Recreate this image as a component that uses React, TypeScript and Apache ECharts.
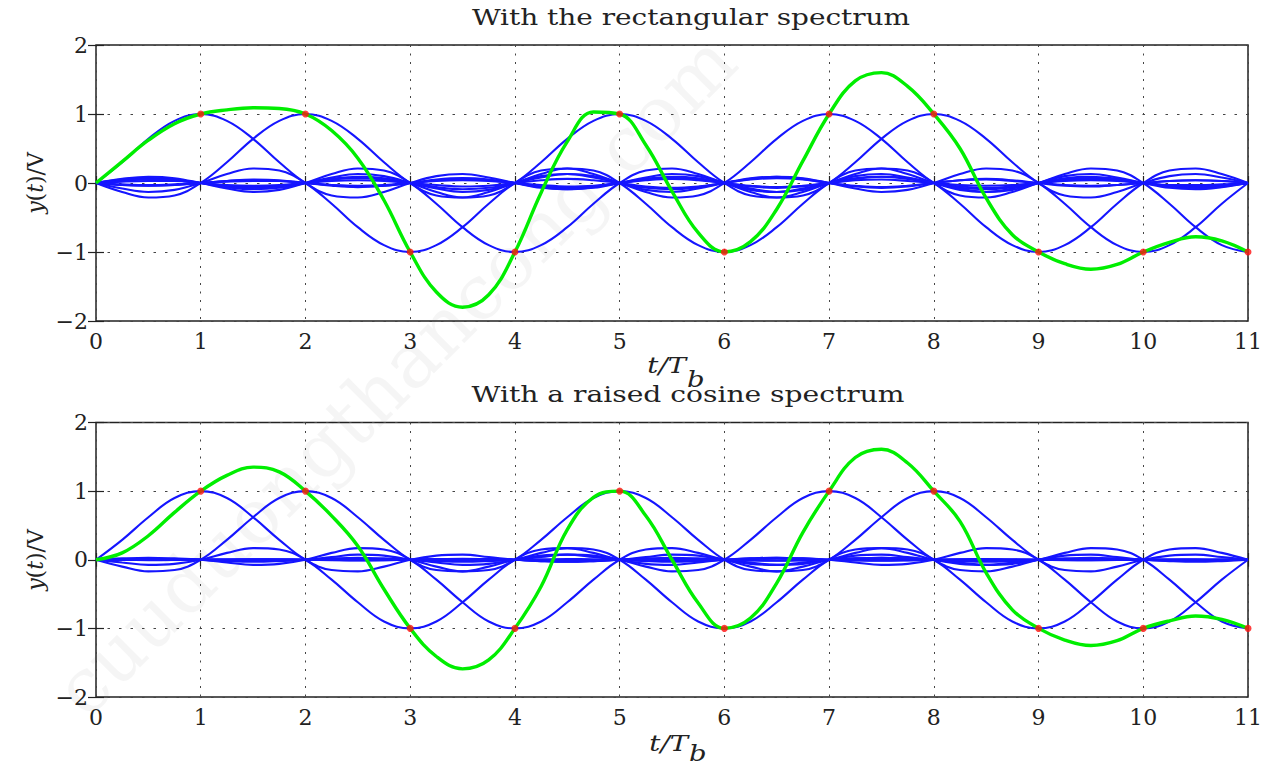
import React, { useEffect, useRef } from 'react';
import * as echarts from 'echarts';

// sampling grid of the curves (t / Tb)
const SAMPLE_STEP = 0.25;
const SAMPLES_PER_UNIT = 4;

// transmitted symbols (red dots)
const symbolTimes = [1, 2, 3, 4, 5, 6, 7, 8, 9, 10, 11];
const symbolAmps = [1, 1, -1, -1, 1, -1, 1, 1, -1, -1, -1];

// one-sided pulse shapes, offsets 0, 0.25, ..., 11
const rectPulse = [
  1, 0.9, 0.64, 0.3, 0, -0.18, -0.21, -0.13, 0, 0.1, 0.13, 0.08, 0, -0.07, -0.09, -0.06,
  0, 0.05, 0.07, 0.05, 0, -0.04, -0.06, -0.04, 0, 0.04, 0.05, 0.03, 0, -0.03, -0.04, -0.03,
  0, 0.03, 0.04, 0.03, 0, -0.03, -0.03, -0.02, 0, 0.02, 0.03, 0.02, 0,
];
const rcPulse = [
  1, 0.9, 0.62, 0.29, 0, -0.15, -0.17, -0.1, 0, 0.06, 0.075, 0.04, 0, -0.02, -0.03, -0.02,
  0, 0.01, 0.015, 0.01, 0, -0.008, -0.01, -0.006, 0, 0.005, 0.007, 0.004, 0, -0.004, -0.005, -0.003,
  0, 0.003, 0.004, 0.003, 0, -0.002, -0.003, -0.002, 0, 0.002, 0.002, 0.001, 0,
];

// received signals (green), t = 0, 0.25, ..., 11
const rectSum = [
  0, 0.31, 0.62, 0.86, 1.0, 1.06, 1.09, 1.08, 1.0, 0.76, 0.36, -0.25, -1.0,
  -1.58, -1.8, -1.62, -1.0, -0.14, 0.6, 1.03, 1.0, 0.55, -0.12, -0.72, -1.0,
  -0.85, -0.38, 0.32, 1.0, 1.48, 1.6, 1.4, 1.0, 0.5, -0.22, -0.75, -1.0,
  -1.17, -1.25, -1.18, -1.0, -0.86, -0.78, -0.84, -1.0,
];
const rcSum = [
  0, 0.1, 0.35, 0.69, 1.0, 1.23, 1.35, 1.28, 1.0, 0.64, 0.2, -0.43, -1.0,
  -1.41, -1.59, -1.46, -1.0, -0.39, 0.44, 0.91, 1.0, 0.64, 0.0, -0.63, -1.0,
  -0.85, -0.34, 0.4, 1.0, 1.49, 1.61, 1.41, 1.0, 0.56, -0.19, -0.73, -1.0,
  -1.17, -1.25, -1.18, -1.0, -0.89, -0.82, -0.87, -1.0,
];

const titles = ['With the rectangular spectrum', 'With a raised cosine spectrum'];

const FONT = 'DejaVu Serif';
const BLUE = '#1515ff';
const GREEN = '#00ee00';
const RED = '#ff1010';
const INK = '#222222';

const tGrid = rectSum.map((_, i) => i * SAMPLE_STEP);

function pulseSeries(shape: number[], axisIndex: number) {
  return symbolTimes.map((k, j) => ({
    type: 'line',
    xAxisIndex: axisIndex,
    yAxisIndex: axisIndex,
    smooth: 0.4,
    symbol: 'none',
    silent: true,
    lineStyle: { color: BLUE, width: 2.1 },
    data: tGrid.map((t, i) => [t, symbolAmps[j] * shape[Math.abs(i - k * SAMPLES_PER_UNIT)]]),
    z: 2,
  }));
}

function sumSeries(values: number[], axisIndex: number) {
  return {
    type: 'line',
    xAxisIndex: axisIndex,
    yAxisIndex: axisIndex,
    smooth: 0.4,
    symbol: 'none',
    silent: true,
    lineStyle: { color: GREEN, width: 3.4 },
    data: tGrid.map((t, i) => [t, values[i]]),
    z: 3,
  };
}

function dotSeries(axisIndex: number) {
  return {
    type: 'scatter',
    xAxisIndex: axisIndex,
    yAxisIndex: axisIndex,
    symbol: 'circle',
    symbolSize: 7,
    itemStyle: { color: RED },
    data: symbolTimes.map((k, j) => [k, symbolAmps[j]]),
    z: 4,
  };
}

const minus = (v: number) => (v < 0 ? '\u2212' + Math.abs(v) : String(v));

function xAxisDef(gridIndex: number, main: boolean) {
  return {
    type: 'value',
    gridIndex,
    min: 0,
    max: 11,
    interval: 1,
    position: main ? 'bottom' : 'top',
    axisLine: { show: false },
    axisTick: { show: true, inside: true, length: 7, lineStyle: { color: INK, width: 1.2 } },
    axisLabel: { show: main, fontFamily: FONT, fontSize: 22, color: INK, margin: 9 },
    splitLine: { show: main, lineStyle: { type: [2, 6.5], color: '#444', width: 1 } },
  };
}

function yAxisDef(gridIndex: number, main: boolean) {
  return {
    type: 'value',
    gridIndex,
    min: -2,
    max: 2,
    interval: 1,
    position: main ? 'left' : 'right',
    axisLine: { show: false },
    axisTick: { show: true, inside: true, length: 8, lineStyle: { color: INK, width: 1.2 } },
    axisLabel: { show: main, fontFamily: FONT, fontSize: 22, color: INK, margin: 8, formatter: minus },
    splitLine: { show: main, lineStyle: { type: [2.5, 9], color: '#444', width: 1 } },
  };
}

function textEl(text: string, x: number, y: number, extra: any = {}) {
  return {
    type: 'text',
    x,
    y,
    silent: true,
    z: 10,
    scaleX: extra.scaleX ?? 1,
    rotation: extra.rotation ?? 0,
    style: {
      text,
      fontFamily: FONT,
      fontSize: 22,
      fill: INK,
      align: extra.align ?? 'center',
      verticalAlign: 'middle',
      fontStyle: extra.fontStyle ?? 'normal',
      rich: extra.rich,
    },
  };
}

const yLabelRich = { i: { fontStyle: 'italic', fontFamily: FONT, fontSize: 22, fill: INK } };

export default function App() {
  const ref = useRef<HTMLDivElement>(null);
  useEffect(() => {
    if (!ref.current) return;
    const chart = echarts.init(ref.current, null, { renderer: 'svg' });
    const gridBase = {
      left: 96,
      width: 1152,
      show: true,
      borderColor: INK,
      borderWidth: 1.5,
      backgroundColor: 'rgba(0,0,0,0)',
    };
    chart.setOption({
      animation: false,
      backgroundColor: '#ffffff',
      grid: [
        { ...gridBase, top: 45, height: 276 },
        { ...gridBase, top: 422.5, height: 274.5 },
      ],
      xAxis: [xAxisDef(0, true), xAxisDef(0, false), xAxisDef(1, true), xAxisDef(1, false)],
      yAxis: [yAxisDef(0, true), yAxisDef(0, false), yAxisDef(1, true), yAxisDef(1, false)],
      series: [
        ...pulseSeries(rectPulse, 0),
        sumSeries(rectSum, 0),
        dotSeries(0),
        ...pulseSeries(rcPulse, 2),
        sumSeries(rcSum, 2),
        dotSeries(2),
      ],
      graphic: [
        {
          type: 'text',
          x: 395,
          y: 375,
          rotation: Math.PI / 4,
          silent: true,
          z: -1,
          style: {
            text: 'cuuduongthancong.com',
            fontFamily: FONT,
            fontSize: 76,
            fill: 'rgba(0,0,0,0.04)',
            align: 'center',
            verticalAlign: 'middle',
          },
        },
        textEl(titles[0], 691, 18, { scaleX: 1.27 }),
        textEl(titles[1], 688, 395, { scaleX: 1.28 }),
        textEl('t/T', 686, 365, { align: 'right', fontStyle: 'italic', scaleX: 1.25 }),
        textEl('b', 687, 379, { align: 'left', fontStyle: 'italic', scaleX: 1.25 }),
        textEl('t/T', 688, 743, { align: 'right', fontStyle: 'italic', scaleX: 1.25 }),
        textEl('b', 689, 753, { align: 'left', fontStyle: 'italic', scaleX: 1.25 }),
        textEl('{i|y}({i|t})/V', 35, 183, { rotation: Math.PI / 2, rich: yLabelRich }),
        textEl('{i|y}({i|t})/V', 35, 560, { rotation: Math.PI / 2, rich: yLabelRich }),
      ],
    });
    return () => chart.dispose();
  }, []);
  return (
    <div
      ref={ref}
      style={{ position: 'absolute', left: 0, top: 0, width: 1268, height: 766 }}
    />
  );
}
